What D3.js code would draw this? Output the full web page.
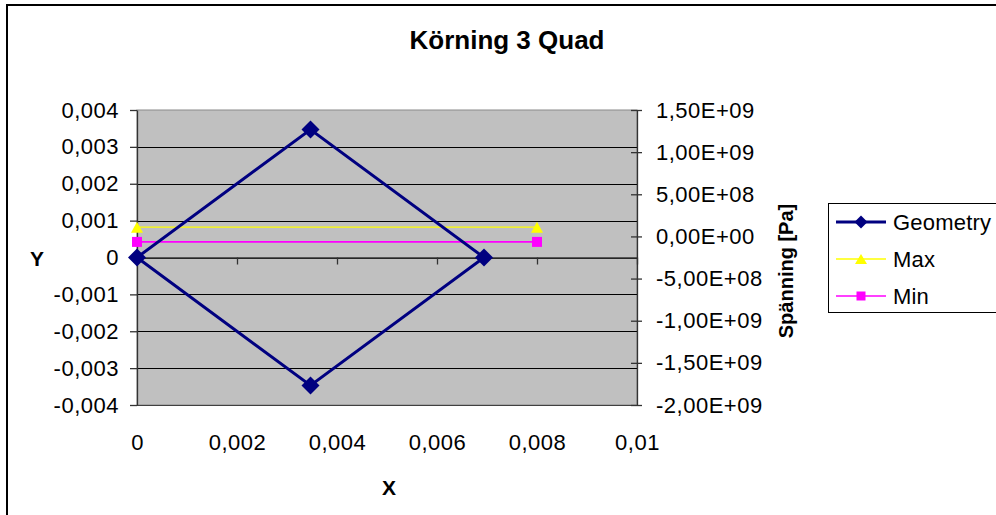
<!DOCTYPE html>
<html>
<head>
<meta charset="utf-8">
<script src="https://cdn.jsdelivr.net/npm/d3@7"></script>
<style>
  body { margin: 0; background: #fff; }
  text { font-family: "Liberation Sans", Arial, sans-serif; fill: #000; }
</style>
</head>
<body>
<svg id="chart" width="996" height="515"></svg>
<script>
// ---- data ----
const chartTitle = "Körning 3 Quad";
const xTitle = "X";
const yTitle = "Y";
const y2Title = "Spänning [Pa]";
const seriesNames = ["Geometry", "Max", "Min"];

// quad outline (closed)
const geomX = [0, 0.00347, 0.00694, 0.00347, 0];
const geomY = [0, 0.00347, 0, -0.00347, 0];

// stress extremes, plotted on the secondary axis
const stressX = [0, 0.008];
const maxStress = [1.1e8, 1.1e8];
const minStress = [-6.5e7, -6.5e7];

const xTicks = [0, 0.002, 0.004, 0.006, 0.008, 0.01];
const yTicks = [-0.004, -0.003, -0.002, -0.001, 0, 0.001, 0.002, 0.003, 0.004];
const y2Ticks = [-2e9, -1.5e9, -1e9, -5e8, 0, 5e8, 1e9, 1.5e9];

// ---- layout ----
const svg = d3.select("#chart");
const L = 137, R = 637, T = 110, B = 405;

const x = d3.scaleLinear().domain([0, 0.01]).range([L, R]);
const y = d3.scaleLinear().domain([-0.004, 0.004]).range([B, T]);
const y2 = d3.scaleLinear().domain([-2e9, 1.5e9]).range([B, T]);

// decimal comma formatting
const fmtDec = v => v === 0 ? "0" : String(+v.toPrecision(6)).replace(".", ",");
const fmtSci = v => {
  if (v === 0) return "0,00E+00";
  const e = Math.floor(Math.log10(Math.abs(v)) + 1e-9);
  const m = v / Math.pow(10, e);
  return m.toFixed(2).replace(".", ",") + "E" + (e >= 0 ? "+" : "-") + String(Math.abs(e)).padStart(2, "0");
};

// outer chart frame
svg.append("rect")
  .attr("x", 7).attr("y", 5).attr("width", 1000).attr("height", 520)
  .attr("fill", "#fff").attr("stroke", "#000").attr("stroke-width", 2);

// plot area
svg.append("rect")
  .attr("x", L).attr("y", T).attr("width", R - L).attr("height", B - T)
  .attr("fill", "#c0c0c0").attr("stroke", "#8a8a8a").attr("stroke-width", 1);

// gridlines
svg.append("g").selectAll("line")
  .data(yTicks.filter(v => v > -0.004 && v < 0.004))
  .join("line")
  .attr("x1", L).attr("x2", R)
  .attr("y1", d => Math.round(y(d)) + 0.5).attr("y2", d => Math.round(y(d)) + 0.5)
  .attr("stroke", "#000").attr("stroke-width", 1);

svg.append("line")
  .attr("x1", L).attr("x2", R).attr("y1", B + 0.5).attr("y2", B + 0.5)
  .attr("stroke", "#404040").attr("stroke-width", 1);

function styleAxis(g) {
  g.selectAll("path.domain").attr("stroke", "#333").attr("stroke-width", 1.3);
  g.selectAll(".tick line").attr("stroke", "#333").attr("stroke-width", 1.3);
  g.selectAll("text")
    .attr("font-family", "'Liberation Sans', Arial, sans-serif")
    .attr("font-size", 22).attr("fill", "#000")
    .style("letter-spacing", "0.5px");
}

// left axis
const gy = svg.append("g").attr("transform", `translate(${L},0)`)
  .call(d3.axisLeft(y).tickValues(yTicks).tickFormat(fmtDec)
    .tickSize(7).tickSizeOuter(0).tickPadding(11));
styleAxis(gy);

// right axis (ticks cross the axis line)
const gy2 = svg.append("g").attr("transform", `translate(${R},0)`)
  .call(d3.axisRight(y2).tickValues(y2Ticks).tickFormat(fmtSci)
    .tickSize(5).tickSizeOuter(0).tickPadding(14));
gy2.selectAll(".tick line").attr("x1", -6);
styleAxis(gy2);

// x axis sits on y = 0, labels below the plot area
const gx = svg.append("g").attr("transform", `translate(0,${y(0)})`)
  .call(d3.axisBottom(x).tickValues(xTicks).tickFormat(fmtDec)
    .tickSize(7).tickSizeOuter(0));
styleAxis(gx);
gx.selectAll("text").attr("y", B - y(0) + 38).attr("dy", "0.32em");

// series
const stroke = { Geometry: "#000080", Max: "#ffff00", Min: "#ff00ff" };
const diamond = r => `M0,${-r}L${r},0L0,${r}L${-r},0Z`;
const triangle = (w, h) => `M0,${-h / 2}L${w / 2},${h / 2}L${-w / 2},${h / 2}Z`;

const lineXY = d3.line().x(d => x(d[0])).y(d => y(d[1]));
const lineX2 = d3.line().x(d => x(d[0])).y(d => y2(d[1]));

const maxPts = stressX.map((v, i) => [v, maxStress[i]]);
const minPts = stressX.map((v, i) => [v, minStress[i]]);
const geomPts = geomX.map((v, i) => [v, geomY[i]]);

svg.append("path").datum(maxPts).attr("d", lineX2)
  .attr("fill", "none").attr("stroke", stroke.Max).attr("stroke-width", 1.3);
svg.append("g").selectAll("path").data(maxPts).join("path")
  .attr("transform", d => `translate(${x(d[0])},${y2(d[1])})`)
  .attr("d", triangle(12, 11)).attr("fill", stroke.Max);

svg.append("path").datum(minPts).attr("d", lineX2)
  .attr("fill", "none").attr("stroke", stroke.Min).attr("stroke-width", 1.6);
svg.append("g").selectAll("rect").data(minPts).join("rect")
  .attr("x", d => x(d[0]) - 5).attr("y", d => y2(d[1]) - 5)
  .attr("width", 10).attr("height", 10).attr("fill", stroke.Min);

svg.append("path").datum(geomPts).attr("d", lineXY)
  .attr("fill", "none").attr("stroke", stroke.Geometry).attr("stroke-width", 3)
  .attr("stroke-linejoin", "miter");
svg.append("g").selectAll("path").data(geomPts.slice(0, 4)).join("path")
  .attr("transform", d => `translate(${x(d[0])},${y(d[1])})`)
  .attr("d", diamond(9)).attr("fill", stroke.Geometry);

// titles
svg.append("text").attr("x", 507).attr("y", 49).attr("text-anchor", "middle")
  .attr("font-size", 26).attr("font-weight", "bold").text(chartTitle);
svg.append("text").attr("x", 389).attr("y", 495).attr("text-anchor", "middle")
  .attr("font-size", 21).attr("font-weight", "bold").text(xTitle);
svg.append("text").attr("x", 37).attr("y", 266).attr("text-anchor", "middle")
  .attr("font-size", 21).attr("font-weight", "bold").text(yTitle);
svg.append("text").attr("transform", "translate(793,271) rotate(-90)")
  .attr("text-anchor", "middle")
  .attr("font-size", 20).attr("font-weight", "bold").text(y2Title);

// legend
const lg = svg.append("g");
lg.append("rect").attr("x", 828.5).attr("y", 203.5).attr("width", 200).attr("height", 109)
  .attr("fill", "#fff").attr("stroke", "#000").attr("stroke-width", 1);
const legendY = [222, 259, 296];
seriesNames.forEach((name, i) => {
  const cy = legendY[i];
  const row = lg.append("g");
  row.append("line").attr("x1", 836).attr("x2", 886).attr("y1", cy).attr("y2", cy)
    .attr("stroke", stroke[name]).attr("stroke-width", name === "Geometry" ? 3 : 1.5);
  if (name === "Geometry") {
    row.append("path").attr("transform", `translate(861,${cy})`).attr("d", diamond(6.5))
      .attr("fill", stroke[name]);
  } else if (name === "Max") {
    row.append("path").attr("transform", `translate(861,${cy})`).attr("d", triangle(12, 10))
      .attr("fill", stroke[name]);
  } else {
    row.append("rect").attr("x", 856.5).attr("y", cy - 4.5).attr("width", 9).attr("height", 9)
      .attr("fill", stroke[name]);
  }
  row.append("text").attr("x", 893).attr("y", cy).attr("dy", "0.35em")
    .attr("font-size", 22).style("letter-spacing", "0.2px").text(name);
});
</script>
</body>
</html>
